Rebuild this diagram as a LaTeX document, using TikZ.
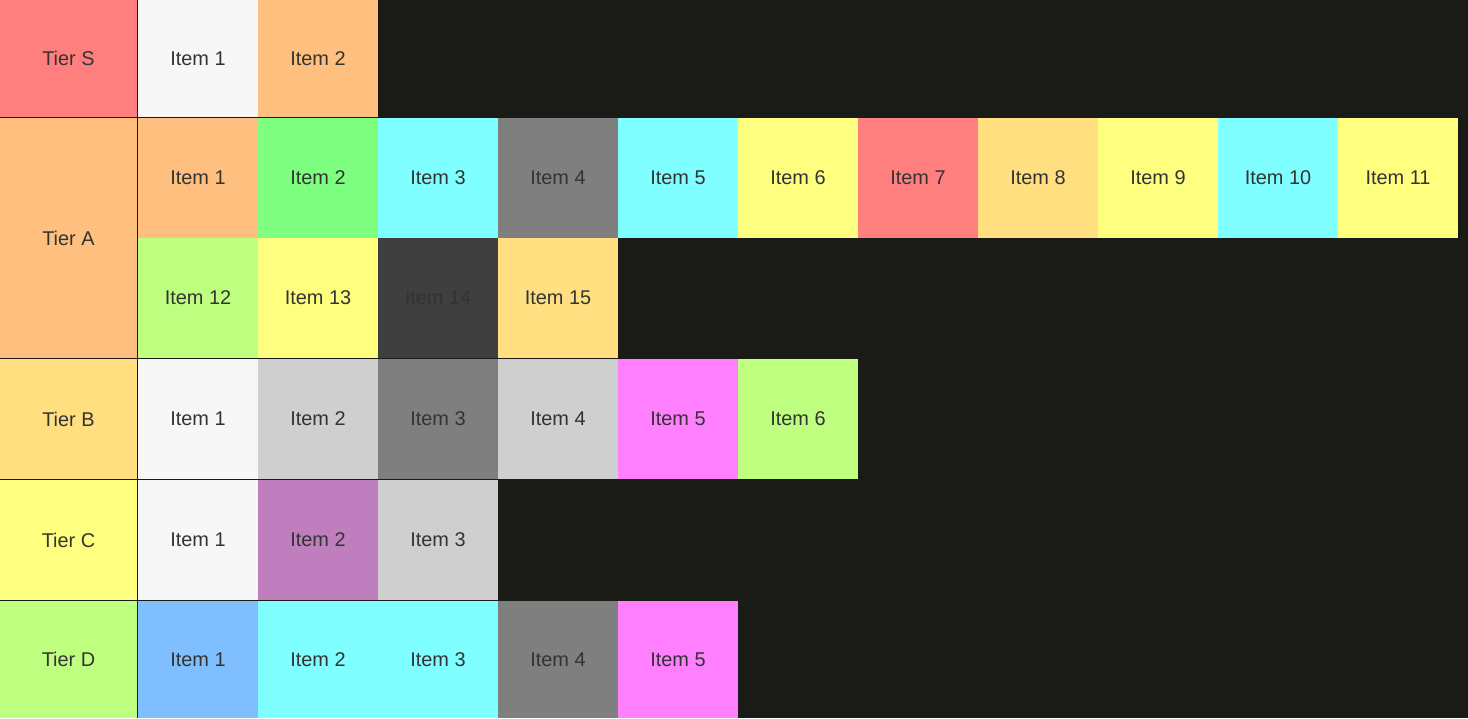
\documentclass[tikz,border=0pt]{standalone}
\usepackage{fontspec}
\setmainfont{Liberation Sans}
\definecolor{board}{HTML}{1A1A17}
\definecolor{ink}{HTML}{333333}
\definecolor{tRed}{HTML}{FF7F7F}
\definecolor{tOrange}{HTML}{FFBF7F}
\definecolor{tTan}{HTML}{FFDF7F}
\definecolor{tYellow}{HTML}{FFFF7F}
\definecolor{tLime}{HTML}{BFFF7F}
\definecolor{tGreen}{HTML}{7FFF7F}
\definecolor{tCyan}{HTML}{7FFFFF}
\definecolor{tBlue}{HTML}{7FBFFF}
\definecolor{tPink}{HTML}{FF7FFF}
\definecolor{tPurple}{HTML}{BF7FBF}
\definecolor{tWhite}{HTML}{F7F7F7}
\definecolor{tLight}{HTML}{CFCFCF}
\definecolor{tGray}{HTML}{7F7F7F}
\definecolor{tDark}{HTML}{3F3F3F}

\begin{document}
\begin{tikzpicture}[x=0.03cm, y=-0.03cm, font=\fontsize{17}{20}\selectfont,
    tierlabel/.style={text=ink, align=center},
    itemlabel/.style={text=ink, align=center}]
        % board
        \fill[board] (0,0) rectangle (1468,718);
        % tier labels
        \fill[tRed] (0,0) rectangle (137,117) node[midway, tierlabel] (tierS) {Tier S};
        \fill[tOrange] (0,118) rectangle (137,358) node[midway, tierlabel] (tierA) {Tier A};
        \fill[tTan] (0,359) rectangle (137,479) node[midway, tierlabel] (tierB) {Tier B};
        \fill[tYellow] (0,480) rectangle (137,600) node[midway, tierlabel] (tierC) {Tier C};
        \fill[tLime] (0,601) rectangle (137,718) node[midway, tierlabel] (tierD) {Tier D};
        % items
        \foreach \c [count=\i] in {tWhite,tOrange}
            \fill[\c] ({138+120*(\i-1)},0) rectangle ++(120,117) node[midway, itemlabel] (s\i) {Item \i};
        \foreach \c [count=\i] in {tOrange,tGreen,tCyan,tGray,tCyan,tYellow,tRed,tTan,tYellow,tCyan,tYellow}
            \fill[\c] ({138+120*(\i-1)},118) rectangle ++(120,120) node[midway, itemlabel] (a\i) {Item \i};
        \foreach \c [count=\i from 12] in {tLime,tYellow,tDark,tTan}
            \fill[\c] ({138+120*(\i-12)},238) rectangle ++(120,120) node[midway, itemlabel] (a\i) {Item \i};
        \foreach \c [count=\i] in {tWhite,tLight,tGray,tLight,tPink,tLime}
            \fill[\c] ({138+120*(\i-1)},359) rectangle ++(120,120) node[midway, itemlabel] (b\i) {Item \i};
        \foreach \c [count=\i] in {tWhite,tPurple,tLight}
            \fill[\c] ({138+120*(\i-1)},480) rectangle ++(120,120) node[midway, itemlabel] (c\i) {Item \i};
        \foreach \c [count=\i] in {tBlue,tCyan,tCyan,tGray,tPink}
            \fill[\c] ({138+120*(\i-1)},601) rectangle ++(120,117) node[midway, itemlabel] (d\i) {Item \i};
    \end{tikzpicture}
\end{document}
